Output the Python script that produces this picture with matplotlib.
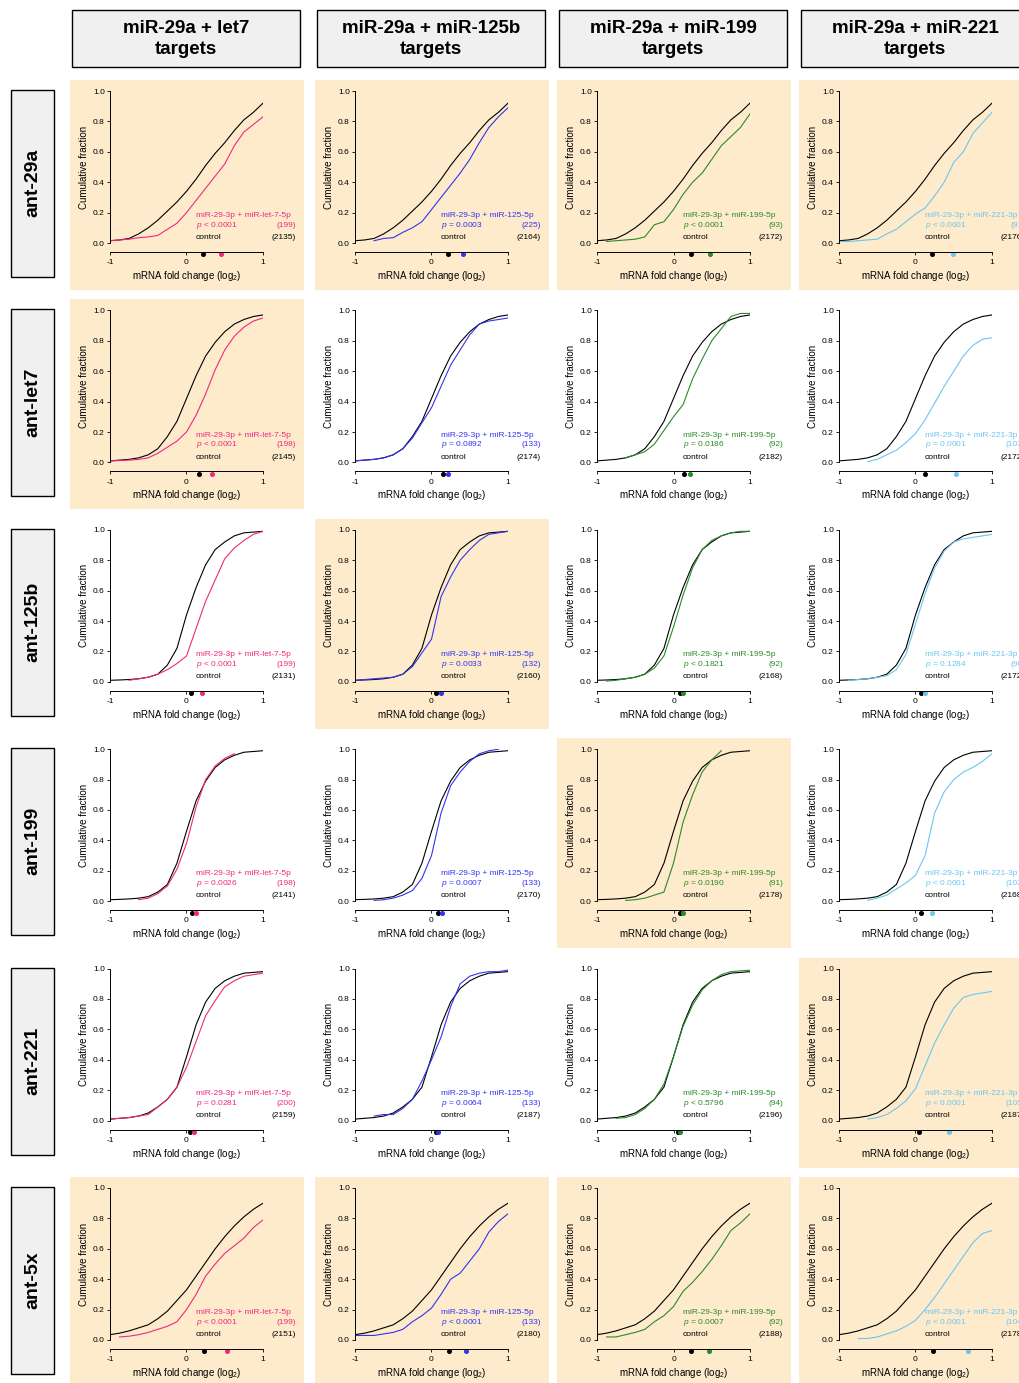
import numpy as np
import matplotlib
matplotlib.use("Agg")
import matplotlib.pyplot as plt
from matplotlib.patches import Rectangle

plt.rcParams['font.family'] = ['Liberation Sans', 'DejaVu Sans']
plt.rcParams['mathtext.fontset'] = 'custom'
plt.rcParams['mathtext.rm'] = 'Liberation Sans'
plt.rcParams['mathtext.it'] = 'Liberation Sans:italic'
plt.rcParams['mathtext.bf'] = 'Liberation Sans:bold'
plt.rcParams['axes.unicode_minus'] = False

# ---- data -------------------------------------------------------------
nan = np.nan
fold_x = [-1, -0.875, -0.75, -0.625, -0.5, -0.375, -0.25, -0.125, 0,
          0.125, 0.25, 0.375, 0.5, 0.625, 0.75, 0.875, 1]

row_names = ['ant-29a', 'ant-let7', 'ant-125b', 'ant-199', 'ant-221', 'ant-5x']
col_titles = ['miR-29a + let7\ntargets', 'miR-29a + miR-125b\ntargets',
              'miR-29a + miR-199\ntargets', 'miR-29a + miR-221\ntargets']
target_names = ['miR-29-3p + miR-let-7-5p', 'miR-29-3p + miR-125-5p',
                'miR-29-3p + miR-199-5p', 'miR-29-3p + miR-221-3p']

# control cumulative fraction, one per antagomir row
control_cdf = [
    [0.015, 0.02, 0.03, 0.06, 0.10, 0.15, 0.21, 0.27, 0.34, 0.42, 0.51, 0.59, 0.66, 0.74, 0.81, 0.86, 0.92],
    [0.01, 0.015, 0.02, 0.03, 0.05, 0.09, 0.17, 0.27, 0.42, 0.57, 0.70, 0.79, 0.86, 0.91, 0.94, 0.96, 0.97],
    [0.01, 0.012, 0.015, 0.02, 0.03, 0.05, 0.11, 0.22, 0.44, 0.62, 0.77, 0.87, 0.92, 0.96, 0.98, 0.985, 0.99],
    [0.01, 0.012, 0.015, 0.02, 0.03, 0.06, 0.11, 0.25, 0.46, 0.66, 0.79, 0.88, 0.93, 0.96, 0.98, 0.985, 0.99],
    [0.01, 0.015, 0.02, 0.03, 0.05, 0.09, 0.14, 0.22, 0.42, 0.63, 0.78, 0.87, 0.92, 0.95, 0.97, 0.975, 0.98],
    [0.035, 0.045, 0.06, 0.08, 0.10, 0.14, 0.19, 0.26, 0.33, 0.42, 0.51, 0.60, 0.68, 0.75, 0.81, 0.86, 0.90],
]

# target cumulative fraction: columns let7, 125b, 199, 221
targets_ant29a = [
    [0.015, 0.02, 0.025, 0.035, 0.04, 0.05, 0.09, 0.13, 0.20, 0.28, 0.36, 0.44, 0.52, 0.64, 0.73, 0.78, 0.83],
    [nan, nan, 0.015, 0.03, 0.035, 0.07, 0.10, 0.14, 0.22, 0.30, 0.38, 0.46, 0.55, 0.66, 0.76, 0.83, 0.89],
    [nan, 0.01, 0.015, 0.02, 0.025, 0.04, 0.12, 0.14, 0.22, 0.32, 0.40, 0.46, 0.55, 0.64, 0.70, 0.76, 0.85],
    [0.01, 0.01, 0.015, 0.02, 0.025, 0.06, 0.09, 0.14, 0.19, 0.23, 0.31, 0.40, 0.53, 0.60, 0.72, 0.79, 0.86],
]
targets_antlet7 = [
    [0.01, 0.012, 0.015, 0.02, 0.03, 0.06, 0.10, 0.14, 0.20, 0.31, 0.45, 0.61, 0.74, 0.83, 0.89, 0.93, 0.95],
    [0.01, 0.015, 0.02, 0.03, 0.05, 0.09, 0.16, 0.26, 0.36, 0.50, 0.64, 0.74, 0.84, 0.91, 0.93, 0.94, 0.95],
    [nan, nan, nan, 0.03, 0.05, 0.07, 0.12, 0.21, 0.30, 0.38, 0.55, 0.68, 0.80, 0.88, 0.96, 0.98, 0.98],
    [nan, nan, nan, 0.005, 0.02, 0.05, 0.08, 0.13, 0.19, 0.28, 0.39, 0.50, 0.60, 0.70, 0.77, 0.81, 0.82],
]
targets_ant125b = [
    [nan, nan, 0.01, 0.02, 0.03, 0.05, 0.08, 0.12, 0.17, 0.35, 0.53, 0.67, 0.81, 0.88, 0.93, 0.97, 0.99],
    [0.01, 0.015, 0.02, 0.025, 0.03, 0.05, 0.10, 0.19, 0.28, 0.56, 0.69, 0.80, 0.87, 0.93, 0.97, 0.98, 0.99],
    [nan, 0.005, 0.01, 0.02, 0.03, 0.05, 0.09, 0.17, 0.36, 0.57, 0.75, 0.87, 0.93, 0.96, 0.98, 0.99, 0.99],
    [nan, 0.01, 0.015, 0.02, 0.03, 0.04, 0.08, 0.18, 0.38, 0.58, 0.75, 0.86, 0.92, 0.94, 0.95, 0.96, 0.97],
]
targets_ant199 = [
    [nan, nan, nan, 0.01, 0.02, 0.05, 0.10, 0.21, 0.38, 0.62, 0.80, 0.89, 0.94, 0.97, nan, nan, nan],
    [nan, nan, 0.005, 0.01, 0.02, 0.04, 0.07, 0.15, 0.30, 0.58, 0.76, 0.85, 0.92, 0.97, 0.99, 1.0, nan],
    [nan, nan, nan, 0.005, 0.01, 0.02, 0.04, 0.06, 0.25, 0.52, 0.70, 0.85, 0.93, 0.99, nan, nan, nan],
    [nan, nan, nan, 0.005, 0.02, 0.04, 0.08, 0.12, 0.17, 0.30, 0.58, 0.72, 0.80, 0.85, 0.88, 0.92, 0.97],
]
targets_ant221 = [
    [0.01, 0.015, 0.02, 0.03, 0.04, 0.09, 0.14, 0.22, 0.35, 0.52, 0.69, 0.79, 0.88, 0.92, 0.95, 0.96, 0.97],
    [nan, nan, 0.03, 0.04, 0.04, 0.08, 0.14, 0.26, 0.40, 0.55, 0.75, 0.90, 0.95, 0.97, 0.98, 0.98, 0.99],
    [nan, nan, 0.015, 0.02, 0.04, 0.08, 0.14, 0.24, 0.42, 0.62, 0.76, 0.86, 0.92, 0.96, 0.98, 0.985, 0.99],
    [nan, nan, nan, 0.01, 0.02, 0.04, 0.08, 0.13, 0.21, 0.36, 0.51, 0.63, 0.74, 0.81, 0.83, 0.84, 0.85],
]
targets_ant5x = [
    [nan, 0.02, 0.025, 0.035, 0.05, 0.07, 0.09, 0.12, 0.20, 0.30, 0.42, 0.50, 0.57, 0.62, 0.67, 0.74, 0.79],
    [0.03, 0.03, 0.03, 0.04, 0.05, 0.07, 0.12, 0.16, 0.21, 0.30, 0.40, 0.44, 0.52, 0.60, 0.71, 0.78, 0.83],
    [nan, 0.02, 0.02, 0.035, 0.05, 0.07, 0.12, 0.16, 0.22, 0.32, 0.38, 0.45, 0.53, 0.62, 0.72, 0.77, 0.83],
    [nan, nan, 0.01, 0.01, 0.02, 0.04, 0.06, 0.09, 0.13, 0.20, 0.28, 0.37, 0.46, 0.55, 0.64, 0.70, 0.72],
]
target_cdf = [targets_ant29a, targets_antlet7, targets_ant125b,
              targets_ant199, targets_ant221, targets_ant5x]

p_values = [
    ['< 0.0001', '= 0.0003', '< 0.0001', '< 0.0001'],
    ['< 0.0001', '= 0.0892', '= 0.0186', '= 0.0001'],
    ['< 0.0001', '= 0.0033', '< 0.1821', '= 0.1284'],
    ['= 0.0026', '= 0.0007', '= 0.0190', '< 0.0001'],
    ['= 0.0281', '= 0.0064', '< 0.5796', '< 0.0001'],
    ['< 0.0001', '< 0.0001', '= 0.0007', '< 0.0001'],
]
n_target = [[199, 225, 93, 91], [198, 133, 92, 103], [199, 132, 92, 90],
            [198, 133, 91, 102], [200, 133, 94, 105], [199, 133, 92, 104]]
n_control = [[2135, 2164, 2172, 2176], [2145, 2174, 2182, 2172],
             [2131, 2160, 2168, 2172], [2141, 2170, 2178, 2168],
             [2159, 2187, 2196, 2187], [2151, 2180, 2188, 2178]]
median_control = [[0.22, 0.22, 0.23, 0.22], [0.16, 0.15, 0.14, 0.13],
                  [0.06, 0.06, 0.08, 0.07], [0.07, 0.08, 0.08, 0.07],
                  [0.04, 0.06, 0.06, 0.05], [0.23, 0.23, 0.23, 0.23]]
median_target = [[0.45, 0.41, 0.48, 0.49], [0.33, 0.22, 0.22, 0.53],
                 [0.20, 0.13, 0.12, 0.13], [0.12, 0.14, 0.12, 0.22],
                 [0.10, 0.08, 0.09, 0.44], [0.53, 0.45, 0.47, 0.68]]

# which panels are shaded (matching antagomir / target pairs)
shaded = [[1, 1, 1, 1], [1, 0, 0, 0], [0, 1, 0, 0],
          [0, 0, 1, 0], [0, 0, 0, 1], [1, 1, 1, 1]]

colors = ['#f0287d', '#3333f0', '#2a8a2a', '#6cc6f0']
shade = '#fdebcc'

# ---- layout (pixels) --------------------------------------------------
W, H = 1020, 1383
ax_left = [110, 355, 597, 839]
ax_top0 = 91
row_pitch = 219.4
ax_w, ax_h = 153, 152

fig = plt.figure(figsize=(W / 100, H / 100), dpi=100)
bg = fig.add_axes([0, 0, 1, 1], zorder=-1)
bg.set_xlim(0, W)
bg.set_ylim(H, 0)
bg.axis('off')

# column headers
for c, title in enumerate(col_titles):
    x0 = ax_left[c] - 38
    bg.add_patch(Rectangle((x0, 10), 228, 57, facecolor='#f0f0f0',
                           edgecolor='black', lw=1.0))
    bg.text(x0 + 114, 39, title, ha='center', va='center', fontsize=13.5,
            fontweight='bold', linespacing=1.35)

for r, rname in enumerate(row_names):
    top = ax_top0 + r * row_pitch
    bg.add_patch(Rectangle((11, top - 1), 43, 187, facecolor='#f0f0f0',
                           edgecolor='black', lw=1.0))
    bg.text(32.5, top + 92, rname, ha='center', va='center', rotation=90,
            fontsize=14, fontweight='bold')

    for c in range(4):
        left = ax_left[c]
        if shaded[r][c]:
            bg.add_patch(Rectangle((left - 40, top - 11), 234, 210,
                                   facecolor=shade, edgecolor='none'))

        ax = fig.add_axes([left / W, 1 - (top + ax_h) / H, ax_w / W, ax_h / H])
        ax.set_facecolor('none')
        ax.plot(fold_x, control_cdf[r], color='black', lw=0.8)
        ax.plot(fold_x, target_cdf[r][c], color=colors[c], lw=0.8)

        ax.set_xlim(-1, 1)
        ax.set_ylim(0, 1.0)
        for s in ['top', 'right']:
            ax.spines[s].set_visible(False)
        ax.spines['bottom'].set_position(('outward', 6.5))
        ax.spines['left'].set_linewidth(0.7)
        ax.spines['bottom'].set_linewidth(0.7)
        ax.set_yticks([0, 0.2, 0.4, 0.6, 0.8, 1.0])
        ax.set_yticklabels(['0.0', '0.2', '0.4', '0.6', '0.8', '1.0'])
        ax.set_xticks([-1, 0, 1])
        ax.set_xticklabels(['-1', '0', '1'])
        ax.tick_params(length=2.2, width=0.6, labelsize=6, pad=1.5)
        ax.tick_params(axis='x', pad=3)
        ax.set_ylabel('Cumulative fraction', fontsize=7, labelpad=3)
        ax.set_xlabel('mRNA fold change (log$_\\mathrm{2}$)', fontsize=7,
                      labelpad=2)

        # medians below the axis
        trans = ax.get_xaxis_transform()
        ax.plot([median_control[r][c]], [-0.075], 'o', color='black', ms=2.6,
                transform=trans, clip_on=False)
        ax.plot([median_target[r][c]], [-0.075], 'o', color=colors[c], ms=2.6,
                transform=trans, clip_on=False)

        # legend text
        ax.text(0.12, 0.18, target_names[c], color=colors[c], fontsize=6,
                va='center', clip_on=False)
        ax.text(0.12, 0.115, '$p$ ' + p_values[r][c], color=colors[c],
                fontsize=6, va='center', clip_on=False)
        ax.text(1.43, 0.115, '(%d)' % n_target[r][c], color=colors[c],
                fontsize=6, va='center', ha='right', clip_on=False)
        ax.text(0.12, 0.035, 'control', color='black', fontsize=6,
                va='center', clip_on=False)
        ax.text(1.43, 0.035, '(%d)' % n_control[r][c], color='black',
                fontsize=6, va='center', ha='right', clip_on=False)

fig.savefig('out.png', dpi=100)
